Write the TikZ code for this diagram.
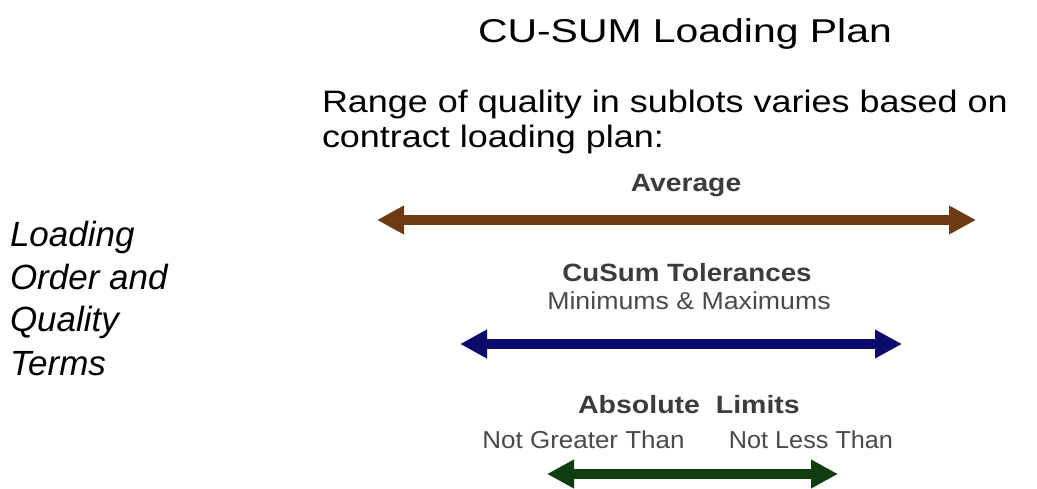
\documentclass[tikz,border=0pt]{standalone}
\usepackage{fontspec}
\setmainfont{Liberation Sans}
\usepackage{graphicx}
\usetikzlibrary{arrows.meta}
\definecolor{avgbrown}{HTML}{6E3A12}
\definecolor{tolblue}{HTML}{0B0B6B}
\definecolor{limgreen}{HTML}{0F3D10}
\definecolor{labelgray}{HTML}{3C3C3C}
\definecolor{subgray}{HTML}{4A4A4A}
\begin{document}
\begin{tikzpicture}[x=1pt,y=-1pt,
  txtw/.style={inner sep=0pt,outer sep=0pt,anchor=base west},
  txtc/.style={inner sep=0pt,outer sep=0pt,anchor=base},
  titletxt/.style={txtw,font=\fontsize{33}{40}\selectfont,text=black},
  bodytxt/.style={txtw,font=\fontsize{31}{36}\selectfont,text=black},
  sidetxt/.style={txtw,font=\fontsize{35}{42}\selectfont\itshape,text=black},
  headlbl/.style={txtc,font=\fontsize{25}{30}\selectfont\bfseries,text=labelgray},
  sublbl/.style={txtc,font=\fontsize{24.5}{30}\selectfont,text=subgray},
  spanarrow/.style={line width=10pt,{Triangle[length=27pt,width=27pt]}-{Triangle[length=27pt,width=27pt]}}
]
\useasboundingbox (0,0) rectangle (1037,489);
\fill[white] (0,0) rectangle (1037,489);

% title and intro
\node[titletxt] (ttl) at (478,43) {\scalebox{1.24}[1]{CU-SUM Loading Plan}};
\node[bodytxt] (rng1) at (322,113) {\scalebox{1.16}[1]{Range of quality in sublots varies based on}};
\node[bodytxt] (rng2) at (322,148) {\scalebox{1.16}[1]{contract loading plan:}};

% side text
\node[sidetxt] (s1) at (10,247) {Loading};
\node[sidetxt] (s2) at (10,290) {Order and};
\node[sidetxt] (s3) at (10,332) {Quality};
\node[sidetxt] (s4) at (10,375) {Terms};

% Average
\node[headlbl] (avg) at (686,192) {\scalebox{1.13}[1]{Average}};
\coordinate (avgL) at (377,220);
\coordinate (avgR) at (976,220);
\draw[spanarrow,avgbrown] (avgL) -- (avgR);

% CuSum tolerances
\node[headlbl] (tol) at (687,282) {\scalebox{1.11}[1]{CuSum Tolerances}};
\node[sublbl] (minmax) at (689,310) {\scalebox{1.09}[1]{Minimums \& Maximums}};
\coordinate (tolL) at (460,344);
\coordinate (tolR) at (902,344);
\draw[spanarrow,tolblue] (tolL) -- (tolR);

% Absolute limits
\node[headlbl] (abs) at (689,413) {\scalebox{1.14}[1]{Absolute\ \ Limits}};
\node[sublbl] (ngt) at (583.5,448) {\scalebox{1.06}[1]{Not Greater Than}};
\node[sublbl] (nlt) at (811,448) {\scalebox{1.03}[1]{Not Less Than}};
\coordinate (limL) at (547,474);
\coordinate (limR) at (838,474);
\draw[spanarrow,limgreen] (limL) -- (limR);
\end{tikzpicture}
\end{document}
